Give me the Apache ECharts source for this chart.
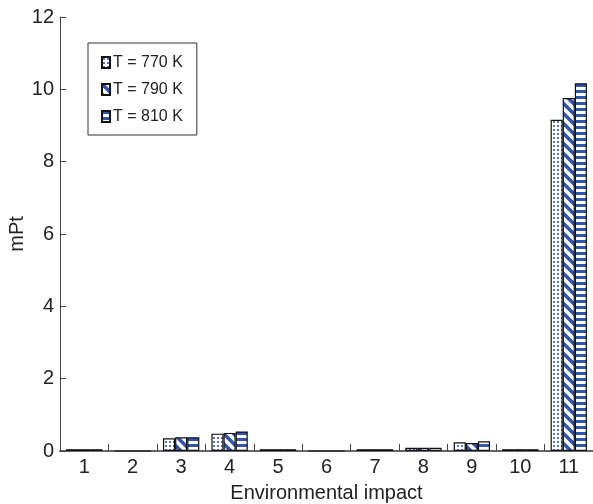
<!DOCTYPE html>
<html>
<head>
<meta charset="utf-8">
<script src="https://cdn.jsdelivr.net/npm/echarts@6/dist/echarts.min.js"></script>
<style>
  html, body { margin: 0; padding: 0; background: #fff; }
  #chart { width: 593px; height: 504px; }
</style>
</head>
<body>
<div id="chart"></div>
<script>
var categories = ['1', '2', '3', '4', '5', '6', '7', '8', '9', '10', '11']
var seriesNames = ['T = 770 K', 'T = 790 K', 'T = 810 K']
var values770 = [0.05, 0, 0.35, 0.48, 0.05, 0, 0.05, 0.09, 0.24, 0.05, 9.16]
var values790 = [0.05, 0, 0.38, 0.5, 0.05, 0, 0.05, 0.09, 0.22, 0.05, 9.76]
var values810 = [0.05, 0, 0.38, 0.54, 0.05, 0, 0.05, 0.09, 0.27, 0.05, 10.17]

var BLUE = '#2f55b0'

// 填充图案
function makeDots () {
  var c = document.createElement('canvas')
  c.width = 4; c.height = 4
  var ctx = c.getContext('2d')
  ctx.fillStyle = '#fff'; ctx.fillRect(0, 0, 4, 4)
  ctx.fillStyle = '#5577cc'
  ctx.fillRect(1, 1, 2, 2)
  return c
}
function makeDiag () {
  var c = document.createElement('canvas')
  c.width = 10; c.height = 10
  var ctx = c.getContext('2d')
  ctx.fillStyle = '#fff'; ctx.fillRect(0, 0, 10, 10)
  ctx.strokeStyle = BLUE
  ctx.lineWidth = 3.5
  for (var k = -10; k <= 10; k += 10) {
    ctx.beginPath()
    ctx.moveTo(k - 2, -2)
    ctx.lineTo(k + 12, 12)
    ctx.stroke()
  }
  return c
}
function makeHoriz () {
  var c = document.createElement('canvas')
  c.width = 4; c.height = 6
  var ctx = c.getContext('2d')
  ctx.fillStyle = '#fff'; ctx.fillRect(0, 0, 4, 6)
  ctx.fillStyle = BLUE
  ctx.fillRect(0, 0, 4, 3)
  return c
}

var patterns = [makeDots(), makeDiag(), makeHoriz()]
var allValues = [values770, values790, values810]

var myChart = echarts.init(document.getElementById('chart'))

var series = allValues.map(function (vals, i) {
  return {
    name: seriesNames[i],
    type: 'bar',
    data: vals,
    barGap: '0%',
    barCategoryGap: '25%',
    itemStyle: {
      color: { image: patterns[i], repeat: 'repeat' },
      borderColor: '#111',
      borderWidth: 1.2
    }
  }
})

var option = {
  backgroundColor: '#fff',
  animation: false,
  textStyle: { fontFamily: 'Liberation Sans, Arial, sans-serif' },
  grid: { left: 60, right: 0, top: 17, bottom: 53, outerBoundsMode: 'none', containLabel: false },
  legend: {
    orient: 'vertical',
    left: 88,
    top: 43,
    padding: [11, 14, 10, 13],
    itemGap: 10,
    itemWidth: 8,
    itemHeight: 11,
    icon: 'rect',
    borderColor: '#333',
    borderWidth: 1,
    backgroundColor: '#fff',
    textStyle: { fontSize: 16, lineHeight: 17, color: '#222', padding: [0, 0, 0, -2] },
    data: seriesNames
  },
  xAxis: {
    type: 'category',
    data: categories,
    name: 'Environmental impact',
    nameLocation: 'middle',
    nameGap: 32,
    nameMoveOverlap: false,
    nameTextStyle: { fontSize: 20, color: '#222' },
    axisLine: { lineStyle: { color: '#666', width: 2 } },
    axisTick: { show: true, inside: true, length: 7, interval: 0, lineStyle: { color: '#444' } },
    axisLabel: { fontSize: 20, color: '#222', margin: 6, interval: 0 }
  },
  yAxis: {
    type: 'value',
    min: 0,
    max: 12,
    interval: 2,
    name: 'mPt',
    nameLocation: 'middle',
    nameGap: 33,
    nameMoveOverlap: false,
    nameTextStyle: { fontSize: 20, color: '#222' },
    axisLine: { show: true, lineStyle: { color: '#444' } },
    axisTick: { show: true, inside: true, length: 6, lineStyle: { color: '#444' } },
    splitLine: { show: false },
    axisLabel: { fontSize: 20, color: '#222', margin: 6 }
  },
  series: series
}

myChart.setOption(option)
</script>
</body>
</html>
